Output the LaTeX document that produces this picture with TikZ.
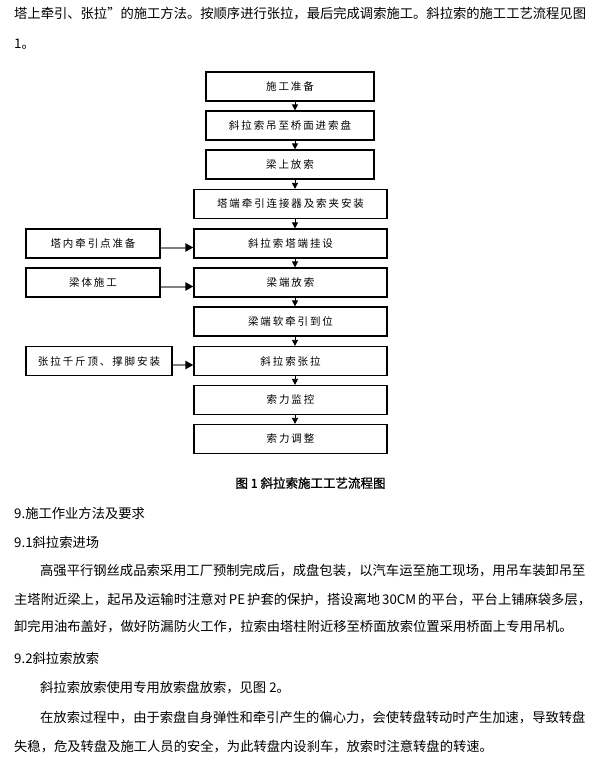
\documentclass[tikz,border=0pt]{standalone}
\usepackage{fontspec}
\setmainfont{Noto Sans CJK SC}
\newfontfamily\boxfont{Noto Sans CJK SC}[LetterSpace=18]
\newfontfamily\capfont{Noto Sans CJK SC}[FakeBold=1.2]
\usetikzlibrary{arrows.meta,positioning}
\XeTeXlinebreaklocale "zh"
\XeTeXlinebreakskip=0pt plus 2pt
\newcommand{\fullline}[2]{\hbox to #1{#2}}
\begin{document}
\begin{tikzpicture}[x=1pt,y=-1pt,
  box/.style={draw,line width=1.2pt,minimum height=29pt,inner sep=0pt,
    font=\boxfont\fontsize{10.5}{12}\selectfont},
  narrow/.style={box,minimum width=168pt},
  wide/.style={box,minimum width=193pt},
  varrow/.style={-{Triangle[width=6pt,length=6pt]},line width=0.8pt},
  harrow/.style={-{Triangle[width=8pt,length=8pt,color=black]},line width=2pt,draw=gray},
  body/.style={anchor=west,inner sep=0pt,font=\fontsize{13.3}{15}\selectfont}]
  \useasboundingbox (0,0) rectangle (600,772);
  % text above the chart
  \node[body] (t1) at (14,14) {\fullline{569pt}{塔上牵引、张拉”的施工方法。按顺序进行张拉，最后完成调索施工。斜拉索的施工工艺流程见图}};
  \node[body] (t2) at (14,44) {1。};
  % main column
  \node[narrow] (b1) at (290,86.5) {施工准备};
  \node[narrow] (b2) at (290,125.5) {斜拉索吊至桥面进索盘};
  \node[narrow] (b3) at (290,164.5) {梁上放索};
  \node[wide] (b4) at (290.5,204) {塔端牵引连接器及索夹安装};
  \node[wide] (b5) at (290.5,243.5) {斜拉索塔端挂设};
  \node[wide] (b6) at (290.5,282.5) {梁端放索};
  \node[wide] (b7) at (290.5,321.5) {梁端软牵引到位};
  \node[wide] (b8) at (290.5,361) {斜拉索张拉};
  \node[wide] (b9) at (290.5,400) {索力监控};
  \node[wide] (b10) at (290.5,439) {索力调整};
  % side column
  \node[box,minimum width=134pt] (l1) at (93,243.5) {塔内牵引点准备};
  \node[box,minimum width=134pt] (l2) at (93,282.5) {梁体施工};
  \node[box,minimum width=146pt] (l3) at (99,361) {张拉千斤顶、撑脚安装};
  % arrows
  \coordinate (ax) at (295,0);
  \foreach \a/\b in {b1/b2,b2/b3,b3/b4,b4/b5,b5/b6,b6/b7,b7/b8,b8/b9,b9/b10}
    \draw[varrow] (\a.south -| ax) -- (\b.north -| ax);
  \draw[harrow] ([yshift=-4pt]l1.east) -- ([yshift=-4pt]l1.east -| b5.west);
  \draw[harrow] ([yshift=-4pt]l2.east) -- ([yshift=-4pt]l2.east -| b6.west);
  \draw[harrow] ([yshift=-4pt]l3.east) -- ([yshift=-4pt]l3.east -| b8.west);
  \node[font=\capfont\fontsize{12.5}{14}\selectfont,inner sep=0pt] (cap) at (310.5,483) {图 1 斜拉索施工工艺流程图};
  % text below the chart
  \node[body] (h1) at (14,513) {9.施工作业方法及要求};
  \node[body] (h2) at (14,542) {9.1斜拉索进场};
  \node[body] (p1) at (40,571) {\fullline{540pt}{高强平行钢丝成品索采用工厂预制完成后，成盘包装，以汽车运至施工现场，用吊车装卸吊至}};
  \node[body] (p2) at (14,600) {\fullline{566pt}{主塔附近梁上，起吊及运输时注意对 PE 护套的保护，搭设离地 30CM 的平台，平台上铺麻袋多层，}};
  \node[body] (p3) at (14,627) {卸完用油布盖好，做好防漏防火工作，拉索由塔柱附近移至桥面放索位置采用桥面上专用吊机。};
  \node[body] (h3) at (14,658) {9.2斜拉索放索};
  \node[body] (p4) at (40,688) {斜拉索放索使用专用放索盘放索，见图 2。};
  \node[body] (p5) at (40,718) {\fullline{543pt}{在放索过程中，由于索盘自身弹性和牵引产生的偏心力，会使转盘转动时产生加速，导致转盘}};
  \node[body] (p6) at (14,747) {失稳，危及转盘及施工人员的安全，为此转盘内设刹车，放索时注意转盘的转速。};
\end{tikzpicture}
\end{document}
